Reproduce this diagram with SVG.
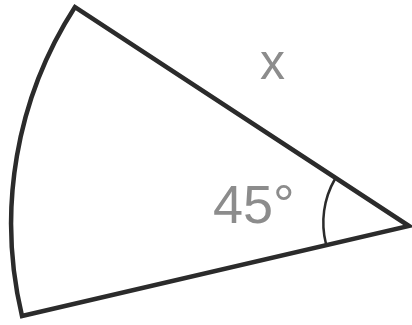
<svg xmlns="http://www.w3.org/2000/svg" width="412" height="325" viewBox="0 0 412 325">
<style>
.edge{fill:none;stroke:#2b2b2b;stroke-width:4.5;stroke-linejoin:miter}
.ang{fill:none;stroke:#2b2b2b;stroke-width:2.5}
.lbl{font-family:"Liberation Sans",Arial,sans-serif;fill:#8c8c8c}
</style>
<rect width="412" height="325" fill="#ffffff"/>
<path class="edge" d="M409 226 L75 7 A399 399 0 0 0 22 316 Z"/>
<path class="ang" d="M335 179 A87 87 0 0 0 326 244"/>
<text class="lbl" x="260" y="79" font-size="50">x</text>
<text class="lbl" x="213" y="223" font-size="54">45°</text>
</svg>
